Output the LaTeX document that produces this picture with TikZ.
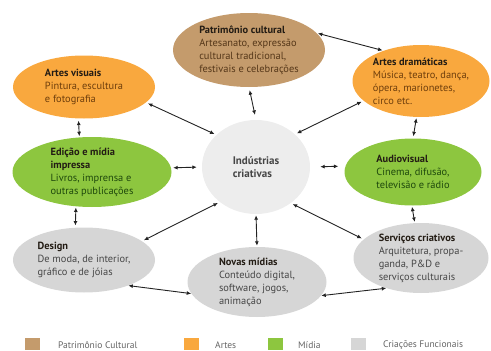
\documentclass[tikz,border=0pt]{standalone}
\usepackage{fontspec}
\setmainfont{PT Sans}
\usetikzlibrary{shapes.geometric,arrows.meta}
\definecolor{patfill}{RGB}{196,155,108}
\definecolor{artfill}{RGB}{249,168,62}
\definecolor{midfill}{RGB}{141,198,63}
\definecolor{crifill}{RGB}{214,214,214}
\definecolor{indfill}{RGB}{237,237,237}
\definecolor{titlecol}{RGB}{35,28,20}
\definecolor{pattext}{RGB}{85,55,25}
\definecolor{arttext}{RGB}{110,62,12}
\definecolor{midtext}{RGB}{30,72,12}
\definecolor{critext}{RGB}{70,70,70}
\definecolor{linecol}{RGB}{35,35,35}
\definecolor{keycol}{RGB}{100,100,100}
\newcommand{\ttl}[1]{\textcolor{titlecol}{\textbf{#1}}}
\begin{document}
\begin{tikzpicture}[x=1pt,y=-1pt,
  area/.style={ellipse, inner sep=-14pt, align=left, font=\fontsize{10.4}{13}\selectfont},
  link/.style={{Latex[length=4.5pt,width=4pt]}-{Latex[length=4.5pt,width=4pt]}, line width=0.9pt, draw=linecol},
  key/.style={minimum width=15pt, minimum height=12pt, inner sep=0pt},
  keytext/.style={anchor=west, inner sep=0pt, text=keycol, font=\fontsize{9.5}{11}\selectfont}]
\useasboundingbox (0,0) rectangle (491,351);
\node[area, fill=patfill, text=pattext, minimum width=152pt, minimum height=74pt] (pat) at (249,50){\ttl{Patrimônio cultural}\\Artesanato, expressão\\cultural tradicional,\\festivais e celebrações};
\node[area, fill=artfill, text=arttext, minimum width=142pt, minimum height=63pt] (av) at (84,87){\ttl{Artes visuais}\\Pintura, escultura\\e fotografia};
\node[area, fill=artfill, text=arttext, minimum width=137pt, minimum height=72pt] (dram) at (421,81){\ttl{Artes dramáticas}\\Música, teatro, dança,\\ópera, marionetes,\\circo etc.};
\node[area, fill=midfill, text=midtext, minimum width=159pt, minimum height=70pt] (ed) at (92,172){\ttl{Edição e mídia}\\\ttl{impressa}\\Livros, imprensa e\\outras publicações};
\node[area, fill=indfill, text=critext, minimum width=108pt, minimum height=94pt, font=\fontsize{11}{12.5}\selectfont\bfseries] (ind) at (256,167){Indústrias\\criativas};
\node[area, fill=midfill, text=midtext, minimum width=137pt, minimum height=67pt] (aud) at (413,172){\ttl{Audiovisual}\\Cinema, difusão,\\televisão e rádio};
\node[area, fill=crifill, text=critext, minimum width=142pt, minimum height=65pt] (des) at (84,260){\ttl{Design}\\De moda, de interior,\\gráfico e de jóias};
\node[area, fill=crifill, text=critext, minimum width=139pt, minimum height=70pt] (nov) at (257,282){\ttl{Novas mídias}\\Conteúdo digital,\\software, jogos,\\animação};
\node[area, fill=crifill, text=critext, minimum width=135pt, minimum height=70pt] (serv) at (421,258){\ttl{Serviços criativos}\\Arquitetura, propa-\\ganda, P\&D e\\serviços culturais};
\draw[link, shorten <=1pt, shorten >=1pt] (pat.14) -- (dram.141);
\draw[link, shorten <=3pt, shorten >=5pt] (pat.south) -- (ind.north);
\draw[link, shorten <=2pt, shorten >=2pt] (av.-14) -- (ind.141);
\draw[link, shorten <=2pt, shorten >=2pt] (dram.-161) -- (ind.40);
\draw[link, shorten <=2pt, shorten >=1pt] (av.-100) -- (ed.110);
\draw[link, shorten <=2pt, shorten >=5pt] (ed.3) -- (ind.west);
\draw[link, shorten <=10pt, shorten >=7pt] (ind.east) -- (aud.175);
\draw[link, shorten <=1pt, shorten >=2pt] (dram.-97) -- (aud.north);
\draw[link, shorten <=1pt, shorten >=2pt] (ed.-115) -- (des.105);
\draw[link, shorten <=2pt, shorten >=2pt] (ind.224) -- (des.18);
\draw[link, shorten <=1pt, shorten >=1pt] (ind.south) -- (nov.north);
\draw[link, shorten <=2pt, shorten >=2pt] (ind.-46) -- (serv.162);
\draw[link, shorten <=1pt, shorten >=1pt] (aud.-92) -- (serv.100);
\draw[link] (des.-30) -- (nov.190);
\draw[link] (nov.-12) -- (serv.-139);
% legenda
\node[key, fill=patfill] (k1) at (32.5,344){};
\node[keytext] (t1) at (58,345){Patrimônio Cultural};
\node[key, fill=artfill] (k2) at (191.5,344){};
\node[keytext] (t2) at (215,345){Artes};
\node[key, fill=midfill] (k3) at (275,344){};
\node[keytext] (t3) at (298,345){Mídia};
\node[key, fill=crifill] (k4) at (358.5,344){};
\node[keytext] (t4) at (383,345){Criações Funcionais};
\end{tikzpicture}
\end{document}
